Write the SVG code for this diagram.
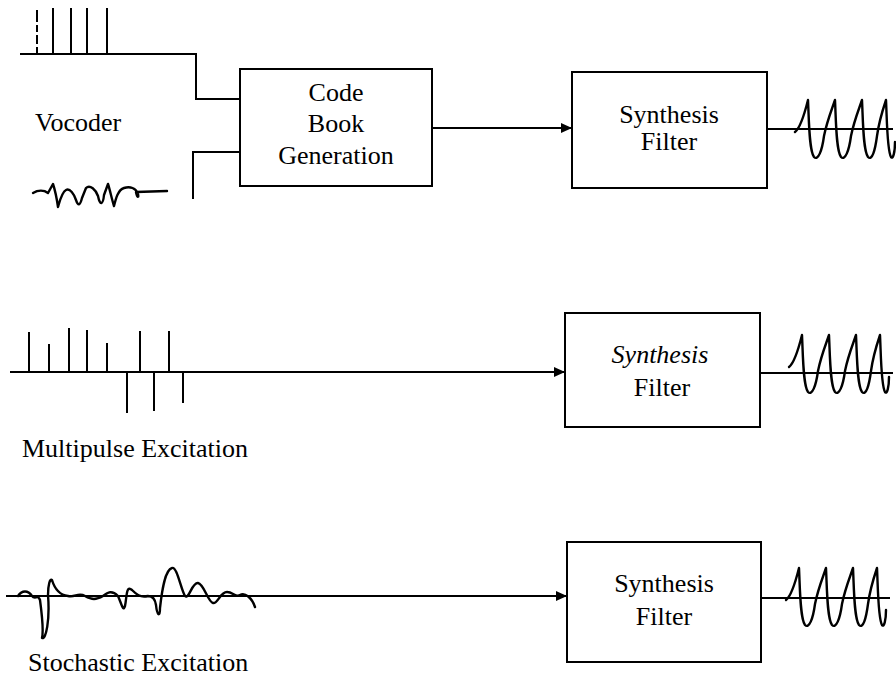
<svg xmlns="http://www.w3.org/2000/svg" width="896" height="679" viewBox="0 0 896 679">
<style>
  .box { fill: #fff; stroke: #000; stroke-width: 2; }
  .ln { fill: none; stroke: #000; stroke-width: 2; }
  .sig { fill: none; stroke: #000; stroke-width: 2.4; stroke-linejoin: round; stroke-linecap: round; }
  .t { font-family: "Liberation Serif", "Times New Roman", serif; font-size: 26px; fill: #000; }
  .c { text-anchor: middle; }
  .it { font-style: italic; }
</style>
<defs>
  <marker id="arr" markerUnits="userSpaceOnUse" markerWidth="12" markerHeight="10" refX="11" refY="5" orient="auto">
    <path d="M0,0 L11,5 L0,10 z" fill="#000"/>
  </marker>
  <path id="wave" class="sig" d="M 0 2 C 4 -1 9 -14 13 -30 C 14 -10 14 20 19 27 C 23 31 27 21 29 6 C 32 -9 37 -21 40 -30 C 41 -10 41 20 46 27 C 50 31 54 21 56 6 C 59 -9 64 -21 67 -30 C 68 -10 68 20 73 27 C 77 31 80 21 82 6 C 84 -9 88 -21 91 -30 C 92 -10 92 20 96 27 C 98 30 100 22 100 12"/>
</defs>
<rect width="896" height="679" fill="#fff"/>

<g id="connectors">
  <path class="ln" d="M 20 54 H 196 V 99 H 240"/>
  <path class="ln" d="M 193 199 V 152 H 240"/>
  <path class="ln" d="M 432 128 H 572" marker-end="url(#arr)"/>
  <path class="ln" d="M 10 372 H 565" marker-end="url(#arr)"/>
  <path class="ln" d="M 6 596 H 567" marker-end="url(#arr)"/>
  <path class="ln" d="M 767 129 H 893"/>
  <path class="ln" d="M 760 373 H 893"/>
  <path class="ln" d="M 761 598 H 890"/>
</g>

<g id="signals">
  <!-- vocoder pulse train -->
  <path class="ln" d="M 37 10 V 53" stroke-dasharray="12 3 7 3 9 3 20"/>
  <path class="ln" d="M 53 8 V 54 M 71 8 V 54 M 87 8 V 54 M 107 8 V 54"/>
  <!-- vocoder noise -->
  <path class="sig" stroke-width="3" d="M 33 193 C 38 190 44 190 48 193 L 53 184 C 55 190 57 200 58 207 C 60 200 62 192 66 190 C 70 188 74 194 76 200 C 78 206 80 206 82 198 L 86 188 C 90 184 96 190 98 196 C 100 206 103 205 104 195 L 108 184 C 110 190 112 200 114 206 C 116 198 118 190 124 188 C 130 186 136 188 138 194 C 139 198 137 198 136 192 L 167 191"/>
  <!-- multipulse -->
  <path class="ln" d="M 29 332 V 372 M 49 344 V 372 M 69 328 V 372 M 87 330 V 372 M 107 343 V 372 M 140 331 V 372 M 169 331 V 372"/>
  <path class="ln" d="M 127 372 V 413 M 154 372 V 411 M 183 372 V 403"/>
  <!-- stochastic -->
  <path class="sig" d="M 18 596 C 22 590 28 590 32 596 C 35 600 38 594 40 600 C 42 615 44 630 42 638 C 46 640 50 620 48 595 C 48 585 50 578 52 580 C 55 590 60 595 68 596 C 75 598 78 592 85 596 C 92 600 96 600 103 596 C 108 592 112 590 118 596 C 122 605 123 612 125 606 C 127 596 126 585 132 590 C 136 594 140 598 148 596 C 152 596 155 598 156 605 C 157 615 160 618 160 608 C 162 590 165 570 172 568 C 177 566 181 590 185 596 C 189 600 192 582 198 583 C 204 584 208 602 213 603 C 218 604 220 592 227 592 C 233 592 236 598 240 595 C 245 592 252 598 255 607"/>
  <!-- outputs -->
  <use href="#wave" transform="translate(795,130)"/>
  <use href="#wave" transform="translate(789,365)"/>
  <use href="#wave" transform="translate(786,598)"/>
</g>

<g id="label-vocoder"><text class="t" x="35" y="131">Vocoder</text></g>
<g id="label-multipulse"><text class="t" x="22" y="457">Multipulse Excitation</text></g>
<g id="label-stochastic"><text class="t" x="28" y="671">Stochastic Excitation</text></g>

<g id="codebook">
  <rect class="box" x="240" y="69" width="192" height="117"/>
  <text class="t c" x="336" y="101">Code</text>
  <text class="t c" x="336" y="132">Book</text>
  <text class="t c" x="336" y="164">Generation</text>
</g>

<g id="synth1">
  <rect class="box" x="572" y="72" width="195" height="116"/>
  <text class="t c" x="669" y="123">Synthesis</text>
  <text class="t c" x="669" y="150">Filter</text>
</g>

<g id="synth2">
  <rect class="box" x="565" y="313" width="195" height="114"/>
  <text class="t c it" x="660" y="363">Synthesis</text>
  <text class="t c" x="662" y="396">Filter</text>
</g>

<g id="synth3">
  <rect class="box" x="567" y="542" width="194" height="120"/>
  <text class="t c" x="664" y="592">Synthesis</text>
  <text class="t c" x="664" y="625">Filter</text>
</g>
</svg>
